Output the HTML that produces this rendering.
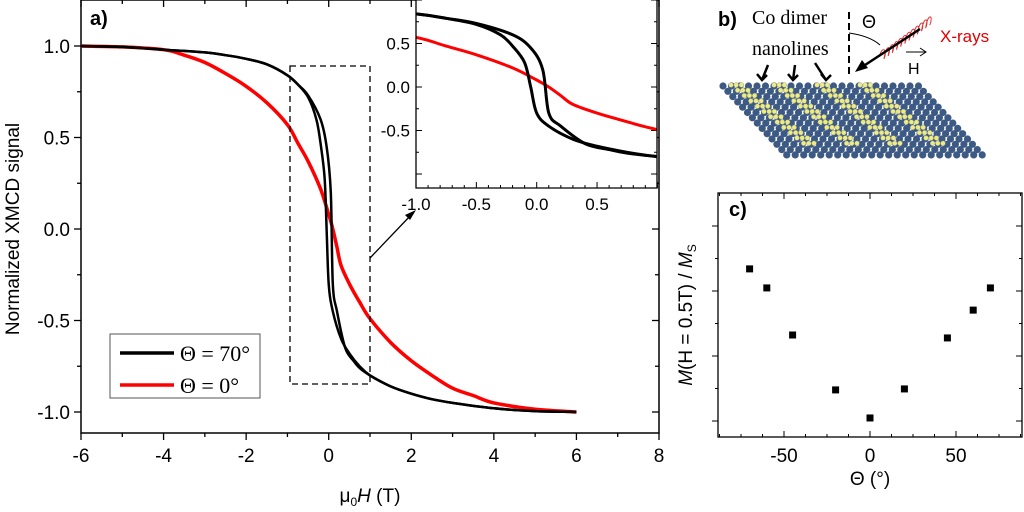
<!DOCTYPE html>
<html><head><meta charset="utf-8"><style>
body{margin:0;background:#fff;}
svg{display:block;font-family:"Liberation Sans",Arial,sans-serif;}
</style></head><body>
<svg id="fig" width="1024" height="512" viewBox="0 0 1024 512" xmlns="http://www.w3.org/2000/svg">
<g id="main"></g>
<g id="inset"></g>
<g id="pb"></g>
<g id="pc"></g>
</svg>
<script>
// Main chart data
const blkAH=[-6,-5,-4,-3,-2.5,-2,-1.5,-1,-0.75,-0.5,-0.2,-0.05,0.05,0.1,0.2,0.4,0.6,0.75,1,1.5,2,2.5,3,4,5,6];
const blkAM=[1.0,0.995,0.98,0.965,0.95,0.93,0.9,0.84,0.79,0.73,0.6,0.45,0.2,-0.3,-0.45,-0.65,-0.72,-0.76,-0.8,-0.86,-0.9,-0.93,-0.95,-0.98,-0.995,-1.0];
const blkBH=[-6,-5,-4,-3,-2.5,-2,-1.5,-1,-0.75,-0.5,-0.3,-0.2,-0.1,-0.05,0,0.1,0.3,0.5,0.75,1,1.5,2,2.5,3,4,5,6];
const blkBM=[1.0,0.995,0.98,0.965,0.95,0.93,0.9,0.84,0.79,0.72,0.6,0.47,0.28,0.0,-0.3,-0.45,-0.6,-0.68,-0.75,-0.8,-0.86,-0.9,-0.93,-0.95,-0.98,-0.995,-1.0];
const redH=[-6,-5,-4,-3.5,-3,-2.5,-2,-1.5,-1,-0.75,-0.5,-0.2,0,0.1,0.2,0.3,0.5,0.75,1,1.5,2,2.5,3,3.5,4,5,6];
const redM=[1.0,0.995,0.98,0.95,0.91,0.85,0.78,0.69,0.57,0.47,0.37,0.22,0.08,0.0,-0.1,-0.2,-0.3,-0.4,-0.49,-0.62,-0.72,-0.8,-0.87,-0.91,-0.95,-0.985,-1.0];
const xTicks=[-6,-4,-2,0,2,4,6,8];
const yTicks=[-1.0,-0.5,0.0,0.5,1.0];
const inXTicks=[-1.0,-0.5,0.0,0.5];
const inYTicks=[-0.5,0.0,0.5];
// Panel c data
const cTheta=[-70,-60,-45,-20,0,20,45,60,70];
const cM=[0.689,0.611,0.418,0.193,0.078,0.197,0.406,0.52,0.611];
const cXTicks=[-50,0,50];

const NS="http://www.w3.org/2000/svg";
function mk(parent,tag,attrs,text){const e=document.createElementNS(NS,tag);for(const k in attrs)e.setAttribute(k,attrs[k]);if(text!==undefined)e.textContent=text;parent.appendChild(e);return e;}

const mx=v=>81+(v+6)*(578/14);
const my=v=>229-183*v;
const M=document.getElementById('main');
let e;
e=mk(M,'rect',{x:81,y:0,width:578,height:433,fill:'none',stroke:'#000','stroke-width':1.5});

for(let v=-6;v<=8;v+=1){const big=v%2===0;
 mk(M,'line',{x1:mx(v),x2:mx(v),y1:433,y2:433+(big?7:4),stroke:'#000','stroke-width':1.3});
 mk(M,'line',{x1:mx(v),x2:mx(v),y1:0,y2:(big?7:4),stroke:'#000','stroke-width':1.3});}
for(let v=-1;v<=1.01;v+=0.25){const big=Math.abs(v*2-Math.round(v*2))<0.01;
 mk(M,'line',{x1:81,x2:81-(big?7:4),y1:my(v),y2:my(v),stroke:'#000','stroke-width':1.3});
 mk(M,'line',{x1:659,x2:659-(big?7:4),y1:my(v),y2:my(v),stroke:'#000','stroke-width':1.3});}
xTicks.forEach(v=>{e=mk(M,'text',{x:mx(v),y:462,'font-size':19,'text-anchor':'middle'},String(v));
 });
yTicks.forEach(v=>{e=mk(M,'text',{x:70,y:my(v)+7,'font-size':19,'text-anchor':'end'},v.toFixed(1));
 });
e=mk(M,'text',{x:0,y:0,'font-size':19,'text-anchor':'middle',transform:'translate(19,229) rotate(-90)'},'Normalized XMCD signal');

e=mk(M,'text',{x:370,y:502,'font-size':19,'text-anchor':'middle'});
e.innerHTML='μ<tspan font-size="12" dy="4">0</tspan><tspan dy="-4" font-style="italic">H</tspan> (T)';

e=mk(M,'text',{x:90,y:25,'font-size':20,'font-weight':'bold'},'a)');

function line(g,H,Mv,fx,fy,col,w,name){
 const P=H.map((h,i)=>[fx(h),fy(Mv[i])]);
 let d='M'+P[0][0].toFixed(1)+','+P[0][1].toFixed(1);
 for(let i=0;i<P.length-1;i++){const p0=P[Math.max(0,i-1)],p1=P[i],p2=P[i+1],p3=P[Math.min(P.length-1,i+2)];
  const c1=[p1[0]+(p2[0]-p0[0])/6,p1[1]+(p2[1]-p0[1])/6],c2=[p2[0]-(p3[0]-p1[0])/6,p2[1]-(p3[1]-p1[1])/6];
  d+=' C'+c1[0].toFixed(1)+','+c1[1].toFixed(1)+' '+c2[0].toFixed(1)+','+c2[1].toFixed(1)+' '+p2[0].toFixed(1)+','+p2[1].toFixed(1);}
 const el=mk(g,'path',{d:d,fill:'none',stroke:col,'stroke-width':w,'stroke-linejoin':'round'});
 return el;}
line(M,redH,redM,mx,my,'#f00',3.5,'red-curve-theta-0');
line(M,blkAH,blkAM,mx,my,'#000',2.5,'black-branch-a-theta-70');
line(M,blkBH,blkBM,mx,my,'#000',2.5,'black-branch-b-theta-70');
e=mk(M,'rect',{x:290,y:66,width:80,height:318,fill:'none',stroke:'#000','stroke-width':1.3,'stroke-dasharray':'6,4'});

e=mk(M,'line',{x1:370,y1:258,x2:412,y2:214,stroke:'#000','stroke-width':1.3});

mk(M,'polygon',{points:'416,210 405,215 410,220',fill:'#000'});
const L=mk(M,'g',{});

mk(L,'rect',{x:110,y:334,width:150,height:64,fill:'#fff',stroke:'#555','stroke-width':1});
mk(L,'line',{x1:120,x2:174,y1:353,y2:353,stroke:'#000','stroke-width':3.5});
mk(L,'line',{x1:120,x2:174,y1:385,y2:385,stroke:'#f00','stroke-width':3.5});
e=mk(L,'text',{x:180,y:361,'font-size':22,'font-family':'Liberation Serif,serif'},'Θ = 70°');

e=mk(L,'text',{x:180,y:393,'font-size':22,'font-family':'Liberation Serif,serif'},'Θ = 0°');


// inset
const I=document.getElementById('inset');
const ix=v=>416+(v+1)*120.7;
const iy=v=>87-87*v;
mk(I,'rect',{x:416,y:0,width:241,height:188,fill:'#fff'});
e=mk(I,'defs',{});const cp=mk(e,'clipPath',{id:'ic'});mk(cp,'rect',{x:416,y:0,width:241,height:188});
for(let v=-1;v<=1.0;v+=0.1){const r=Math.round(v*10);const big=r%5===0;
 mk(I,'line',{x1:ix(v),x2:ix(v),y1:188,y2:188-(big?6:3),stroke:'#000','stroke-width':1});}
for(let v=-1;v<=1.01;v+=0.25){const big=Math.abs(v*2-Math.round(v*2))<0.01;
 mk(I,'line',{x1:416,x2:416+(big?6:3),y1:iy(v),y2:iy(v),stroke:'#000','stroke-width':1});
 mk(I,'line',{x1:657,x2:657-(big?6:3),y1:iy(v),y2:iy(v),stroke:'#000','stroke-width':1});}
const ig=mk(I,'g',{'clip-path':'url(#ic)'});
line(ig,redH,redM,ix,iy,'#f00',3,'inset-red-curve');
line(ig,blkAH,blkAM,ix,iy,'#000',3,'inset-black-branch-a');
line(ig,blkBH,blkBM,ix,iy,'#000',3,'inset-black-branch-b');
mk(I,'polyline',{points:'416,0 416,188 657,188 657,0',fill:'none',stroke:'#000','stroke-width':1.3});
inXTicks.forEach(v=>{e=mk(I,'text',{x:ix(v),y:210,'font-size':17,'text-anchor':'middle'},v.toFixed(1));
 });
inYTicks.forEach(v=>{e=mk(I,'text',{x:410,y:iy(v)+6,'font-size':17,'text-anchor':'end'},v.toFixed(1));
 });

// panel b schematic
const B=document.getElementById('pb');
e=mk(B,'text',{x:718,y:26,'font-size':20,'font-weight':'bold'},'b)');

e=mk(B,'text',{x:752,y:24,'font-size':20,'font-family':'Liberation Serif,serif'},'Co dimer');

e=mk(B,'text',{x:752,y:55,'font-size':20,'font-family':'Liberation Serif,serif'},'nanolines');
e=mk(B,'text',{x:862,y:28,'font-size':18},'Θ');
e=mk(B,'text',{x:940,y:42,'font-size':17,fill:'#e00000'},'X-rays');

e=mk(B,'text',{x:908,y:74,'font-size':16},'H');
mk(B,'line',{x1:906,x2:926,y1:52,y2:52,stroke:'#000','stroke-width':1});
mk(B,'polyline',{points:'920,48 926,52 920,56',fill:'none',stroke:'#000','stroke-width':1});
mk(B,'line',{x1:849,x2:849,y1:12,y2:74,stroke:'#000','stroke-width':2,'stroke-dasharray':'7,4'});
mk(B,'path',{d:'M849,33 Q870,36 880,45',fill:'none',stroke:'#000','stroke-width':1});
let sp='M880,55';for(let k=0;k<12;k++){const t=k/12;const cx=880+t*(930-880),cy=55-t*(55-18);sp+=' C'+(cx+2)+','+(cy-9)+' '+(cx+8)+','+(cy-6)+' '+(cx+4)+','+(cy+4);}
mk(B,'path',{d:sp,fill:'none',stroke:'#e03030','stroke-width':1});
mk(B,'line',{x1:920,y1:29,x2:862,y2:67,stroke:'#000','stroke-width':2.5});
mk(B,'polygon',{points:'855,72 862,60 868,68',fill:'#000'});
[[768,65,762,80],[795,65,793,80],[815,63,826,80]].forEach(a=>{mk(B,'line',{x1:a[0],y1:a[1],x2:a[2],y2:a[3],stroke:'#000','stroke-width':2.5});
 mk(B,'polyline',{points:(a[2]-5)+','+(a[3]-6)+' '+a[2]+','+a[3]+' '+(a[2]+5)+','+(a[3]-5),fill:'none',stroke:'#000','stroke-width':2.5});});
const surf=mk(B,'g',{});
for(let r=0;r<14;r++){for(let c=0;c<24;c++){const x=723+c*8.5+r*4.9,y=86+r*5.3;
 mk(surf,'circle',{cx:x,cy:y,r:3.6,fill:'#3d5a85'});}}
for(let s=0;s<4;s++){for(let r=0;r<12;r++){for(let d=0;d<3;d++){const x=731+s*43+r*6.6+d*5.2,y=85+r*5.3;
 mk(surf,'circle',{cx:x,cy:y,r:2.4,fill:'#ecec80',stroke:'#888','stroke-width':0.4});}}}

// panel c
const C=document.getElementById('pc');
const cx=v=>870+v*1.72;
const cy=v=>437-244*v;
e=mk(C,'rect',{x:718,y:193,width:304,height:244,fill:'none',stroke:'#000','stroke-width':1.3});

for(let v=-87.5;v<=90;v+=12.5){const big=Math.abs(v%50)<0.01;
 mk(C,'line',{x1:cx(v),x2:cx(v),y1:437,y2:437-(big?6:3),stroke:'#000','stroke-width':1});
 mk(C,'line',{x1:cx(v),x2:cx(v),y1:193,y2:193+(big?6:3),stroke:'#000','stroke-width':1});}
for(let k=0;k<8;k++){const y=421-k*32.5;if(y<195)continue;const big=k%2===0;
 mk(C,'line',{x1:718,x2:718-(big?6:3),y1:y,y2:y,stroke:'#000','stroke-width':1});
 mk(C,'line',{x1:1022,x2:1022-(big?6:3),y1:y,y2:y,stroke:'#000','stroke-width':1});}
cXTicks.forEach(v=>{e=mk(C,'text',{x:cx(v),y:462,'font-size':19,'text-anchor':'middle'},String(v));
 });
cTheta.forEach((t,i)=>{e=mk(C,'rect',{x:cx(t)-3.5,y:cy(cM[i])-3.5,width:7,height:7,fill:'#000'});
 });
e=mk(C,'text',{x:870,y:485,'font-size':19,'text-anchor':'middle'},'Θ (°)');

e=mk(C,'text',{x:0,y:0,'font-size':19,'text-anchor':'middle',transform:'translate(692,315) rotate(-90)'});
e.innerHTML='<tspan font-style="italic">M</tspan>(H = 0.5T) / <tspan font-style="italic">M</tspan><tspan font-size="12" dy="4">S</tspan>';

e=mk(C,'text',{x:729,y:216,'font-size':20,'font-weight':'bold'},'c)');

</script>
</body></html>
